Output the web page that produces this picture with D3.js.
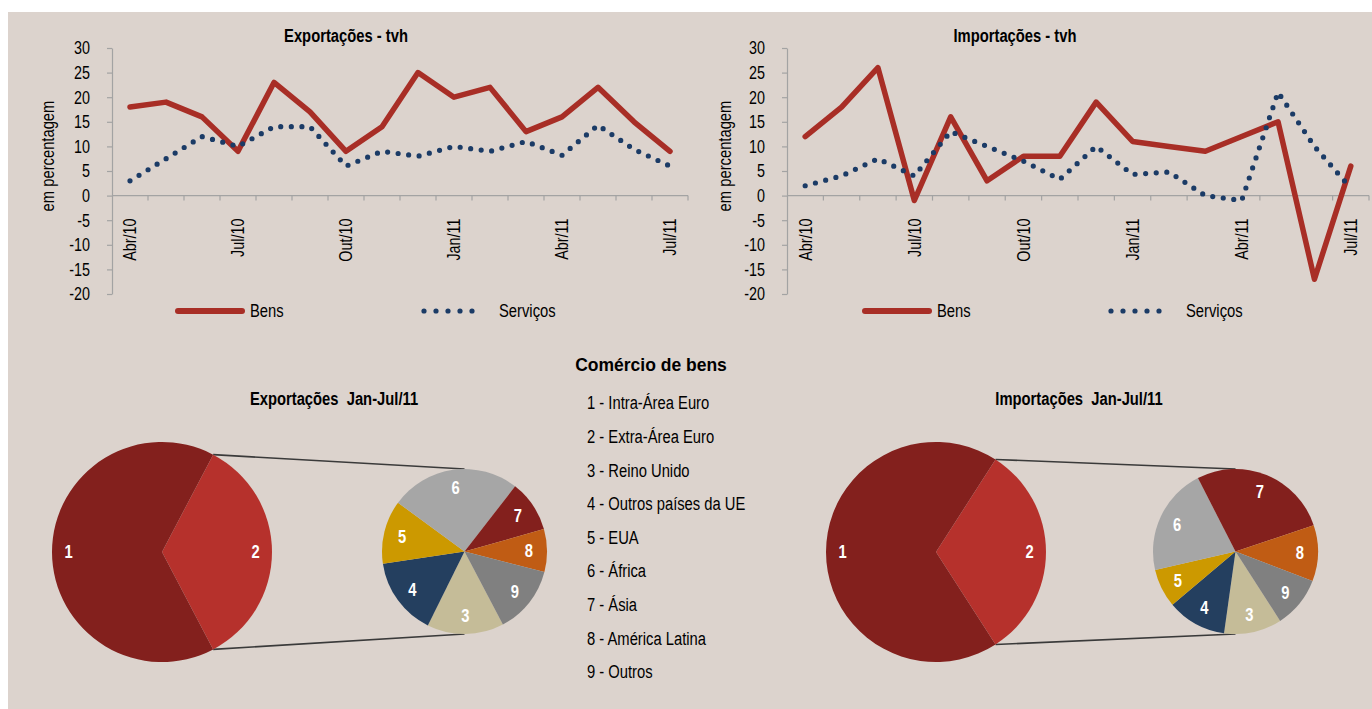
<!DOCTYPE html>
<html>
<head>
<meta charset="utf-8">
<script src="https://cdn.jsdelivr.net/npm/d3@7"></script>
<style>
  body { margin: 0; background: #ffffff; }
  svg { display: block; }
</style>
</head>
<body>
<svg id="chart" width="1372" height="709"></svg>
<script>
// ---- Data ---------------------------------------------------------------
const months = ["Abr/10", "Mai/10", "Jun/10", "Jul/10", "Ago/10", "Set/10", "Out/10", "Nov/10",
                "Dez/10", "Jan/11", "Fev/11", "Mar/11", "Abr/11", "Mai/11", "Jun/11", "Jul/11"];
const monthLabels = ["Abr/10", "Jul/10", "Out/10", "Jan/11", "Abr/11", "Jul/11"];
const yTicks = [30, 25, 20, 15, 10, 5, 0, -5, -10, -15, -20];

// taxa de variação homóloga (%)
const expBens     = [18, 19, 16, 9, 23, 17, 9, 14, 25, 20, 22, 13, 16, 22, 15, 9];
const expServicos = [3, 7.5, 12, 10, 14, 14, 6, 9, 8, 10, 9, 11, 8.2, 14.3, 9.4, 6];
const impBens     = [12, 18, 26, -1, 16, 3, 8, 8, 19, 11, 10, 9, 12, 15, -17, 6];
const impServicos = [2, 4, 7.5, 4, 13, 10, 7, 3.3, 10, 4.3, 4.8, 0, -1, 21, 10, 1.5];

const seriesNames = ["Bens", "Serviços"];

// Comércio de bens, Jan-Jul/11 (% do total)
const regions = ["Intra-Área Euro", "Extra-Área Euro", "Reino Unido", "Outros países da UE",
                 "EUA", "África", "Ásia", "América Latina", "Outros"];
const expIntra = 65.4;
const expExtra = [5.2, 5.3, 4.3, 8.8, 3.5, 2.9, 4.6];   // regiões 3 a 9
const impIntra = 68.2;
const impExtra = [3.6, 3.7, 2.4, 6.7, 8.7, 3.5, 3.2];   // regiões 3 a 9

// ---- Styles ------------------------------------------------------------
// Narrow text: Arial-metric face, condensed horizontally after layout
const FONT = "'Liberation Sans', Arial, sans-serif";
const CONDENSE = 0.82;
const BG = "#DCD3CD";
const AXIS = "#A3A3A3";
const BENS = "#A82E26";
const SERV = "#1B3B66";
const sliceColor = {
  1: "#83201D", 2: "#B6312C", 3: "#C5BC98", 4: "#243F5F", 5: "#CC9900",
  6: "#A6A6A6", 7: "#83201D", 8: "#C05C14", 9: "#808080"
};

const svg = d3.select("#chart");
svg.append("rect").attr("x", 8).attr("y", 12).attr("width", 1372 - 8).attr("height", 709 - 12).attr("fill", BG);

// ---- Line charts -------------------------------------------------------
function lineChart(cfg) {
  const g = svg.append("g");
  const x = d3.scaleBand().domain(months).range([cfg.x0, cfg.x1]);
  const y = d3.scaleLinear().domain([-20, 30]).range([294, 48]);
  const cx = m => x(m) + x.bandwidth() / 2;

  g.append("text")
    .attr("class", "narrow")
    .attr("x", cfg.titleX).attr("y", 42)
    .attr("text-anchor", "middle")
    .attr("font-family", FONT).attr("font-weight", "bold").attr("font-size", 18)
    .text(cfg.title);

  // y axis
  const ya = g.append("g")
    .attr("transform", `translate(${cfg.x0},0)`)
    .call(d3.axisLeft(y).tickValues(yTicks).tickSize(5).tickSizeOuter(0).tickPadding(17).tickFormat(d => String(d)));
  ya.attr("font-family", FONT).attr("font-size", 17.5);
  ya.select(".domain").attr("stroke", AXIS).attr("stroke-width", 1.2);
  ya.selectAll(".tick line").attr("stroke", AXIS).attr("stroke-width", 1.2);
  ya.selectAll(".tick text").attr("class", "narrow").attr("fill", "#000").attr("dy", "0.34em");

  g.append("text")
    .attr("class", "narrow")
    .attr("transform", `translate(${cfg.labelX},156) rotate(-90)`)
    .attr("text-anchor", "middle")
    .attr("font-family", FONT).attr("font-size", 18)
    .text("em percentagem");

  // category axis at zero
  const y0 = y(0);
  g.append("line")
    .attr("x1", cfg.x0).attr("x2", cfg.x1).attr("y1", y0).attr("y2", y0)
    .attr("stroke", AXIS).attr("stroke-width", 1.2);
  const boundaries = months.slice(1).map(m => x(m)).concat([x.range()[1]]);
  g.selectAll("line.xt").data(boundaries).join("line")
    .attr("class", "xt")
    .attr("x1", d => d).attr("x2", d => d).attr("y1", y0).attr("y2", y0 + 5)
    .attr("stroke", AXIS).attr("stroke-width", 1.2);
  g.selectAll("text.xl").data(monthLabels).join("text")
    .attr("class", "xl narrow")
    .attr("transform", d => `translate(${cx(d)},${y0 + 23}) rotate(-90)`)
    .attr("dy", "0.36em")
    .attr("text-anchor", "end")
    .attr("font-family", FONT).attr("font-size", 17.5)
    .text(d => d);

  const line = d3.line().x((d, i) => cx(months[i])).y(d => y(d));
  g.append("path").datum(cfg.bens)
    .attr("d", line).attr("fill", "none")
    .attr("stroke", BENS).attr("stroke-width", 5.5)
    .attr("stroke-linejoin", "round").attr("stroke-linecap", "round");
  g.append("path").datum(cfg.serv)
    .attr("d", line).attr("fill", "none")
    .attr("stroke", SERV).attr("stroke-width", 5.2)
    .attr("stroke-dasharray", "0,10.6")
    .attr("stroke-linecap", "round");

  // legend
  const ly = 311;
  g.append("line")
    .attr("x1", cfg.legX + 3).attr("x2", cfg.legX + 67).attr("y1", ly).attr("y2", ly)
    .attr("stroke", BENS).attr("stroke-width", 6).attr("stroke-linecap", "round");
  g.append("text")
    .attr("class", "narrow")
    .attr("x", cfg.legX + 75).attr("y", ly).attr("dy", "0.36em")
    .attr("font-family", FONT).attr("font-size", 18)
    .text(seriesNames[0]);
  g.append("line")
    .attr("x1", cfg.legX + 249).attr("x2", cfg.legX + 309).attr("y1", ly).attr("y2", ly)
    .attr("stroke", SERV).attr("stroke-width", 5.2)
    .attr("stroke-dasharray", "0,12").attr("stroke-linecap", "round");
  g.append("text")
    .attr("class", "narrow")
    .attr("x", cfg.legX + 324).attr("y", ly).attr("dy", "0.36em")
    .attr("font-family", FONT).attr("font-size", 18)
    .text(seriesNames[1]);
}

lineChart({ x0: 112, x1: 688, title: "Exportações - tvh", titleX: 346, labelX: 53.5,
            legX: 175, bens: expBens, serv: expServicos });
lineChart({ x0: 787, x1: 1369, title: "Importações - tvh", titleX: 1015, labelX: 731,
            legX: 862, bens: impBens, serv: impServicos });

// ---- Comércio de bens --------------------------------------------------
svg.append("text")
  .attr("x", 651).attr("y", 370.5)
  .attr("text-anchor", "middle")
  .attr("font-family", FONT).attr("font-weight", "bold").attr("font-size", 17.5)
  .text("Comércio de bens");

svg.append("g").selectAll("text").data(regions).join("text")
  .attr("class", "narrow")
  .attr("x", 587).attr("y", (d, i) => 409.3 + i * 33.6)
  .attr("font-family", FONT).attr("font-size", 18)
  .text((d, i) => `${i + 1} - ${d}`);

function pieOfPie(cfg) {
  const g = svg.append("g");
  const R = 110, r = 82.5;
  const extraSum = d3.sum(cfg.extra);
  const total = cfg.intra + extraSum;
  const half = Math.PI * extraSum / total;   // half-angle of the aggregated slice

  g.append("text")
    .attr("class", "narrow")
    .attr("x", cfg.titleX).attr("y", 404.5)
    .attr("text-anchor", "middle")
    .attr("font-family", FONT).attr("font-weight", "bold").attr("font-size", 18)
    .style("white-space", "pre")
    .text(cfg.title);

  // connector lines from the aggregated slice to the secondary pie
  const a1 = Math.PI / 2 - half, a2 = Math.PI / 2 + half;
  const conn = [
    [[cfg.bx + R * Math.sin(a1), cfg.by - R * Math.cos(a1)], [cfg.sx, cfg.sy - r]],
    [[cfg.bx + R * Math.sin(a2), cfg.by - R * Math.cos(a2)], [cfg.sx, cfg.sy + r]]
  ];
  g.selectAll("path.conn").data(conn).join("path")
    .attr("class", "conn")
    .attr("d", d => d3.line()(d))
    .attr("stroke", "#3A3A3A").attr("stroke-width", 1.6).attr("fill", "none");

  // main pie: aggregated slice (2) centred on the right
  const bigData = [{ id: 2, v: extraSum }, { id: 1, v: cfg.intra }];
  const bigArcs = d3.pie().value(d => d.v).sort(null)
    .startAngle(a1).endAngle(a1 + 2 * Math.PI)(bigData);
  const bigArc = d3.arc().innerRadius(0).outerRadius(R);
  const bigLab = d3.arc().innerRadius(R * 0.85).outerRadius(R * 0.85);
  const bg = g.append("g").attr("transform", `translate(${cfg.bx},${cfg.by})`);
  bg.selectAll("path").data(bigArcs).join("path")
    .attr("d", bigArc).attr("fill", d => sliceColor[d.data.id]);
  bg.selectAll("text").data(bigArcs).join("text")
    .attr("class", "narrow")
    .attr("transform", d => `translate(${bigLab.centroid(d)})`)
    .attr("text-anchor", "middle").attr("dy", "0.36em")
    .attr("font-family", FONT).attr("font-weight", "bold").attr("font-size", 18)
    .attr("fill", "#ffffff")
    .text(d => d.data.id);

  // secondary pie: regions 3..9 starting at the lower edge of slice 2
  const smallData = cfg.extra.map((v, i) => ({ id: i + 3, v }));
  const smallArcs = d3.pie().value(d => d.v).sort(null)
    .startAngle(a2).endAngle(a2 + 2 * Math.PI)(smallData);
  const smallArc = d3.arc().innerRadius(0).outerRadius(r);
  const smallLab = d3.arc().innerRadius(r * 0.78).outerRadius(r * 0.78);
  const sg = g.append("g").attr("transform", `translate(${cfg.sx},${cfg.sy})`);
  sg.selectAll("path").data(smallArcs).join("path")
    .attr("d", smallArc).attr("fill", d => sliceColor[d.data.id]);
  sg.selectAll("text").data(smallArcs).join("text")
    .attr("class", "narrow")
    .attr("transform", d => `translate(${smallLab.centroid(d)})`)
    .attr("text-anchor", "middle").attr("dy", "0.36em")
    .attr("font-family", FONT).attr("font-weight", "bold").attr("font-size", 18)
    .attr("fill", "#ffffff")
    .text(d => d.data.id);
}

pieOfPie({ title: "Exportações  Jan-Jul/11", titleX: 334, bx: 162, by: 552, sx: 464.5, sy: 551.5,
           intra: expIntra, extra: expExtra });
pieOfPie({ title: "Importações  Jan-Jul/11", titleX: 1079, bx: 936, by: 552, sx: 1235.5, sy: 551.5,
           intra: impIntra, extra: impExtra });

// condense the narrow-style texts horizontally
svg.selectAll("text.narrow").each(function () {
  const w = this.getComputedTextLength();
  if (w > 0) {
    this.setAttribute("textLength", (w * CONDENSE).toFixed(2));
    this.setAttribute("lengthAdjust", "spacingAndGlyphs");
  }
});
</script>
</body>
</html>
